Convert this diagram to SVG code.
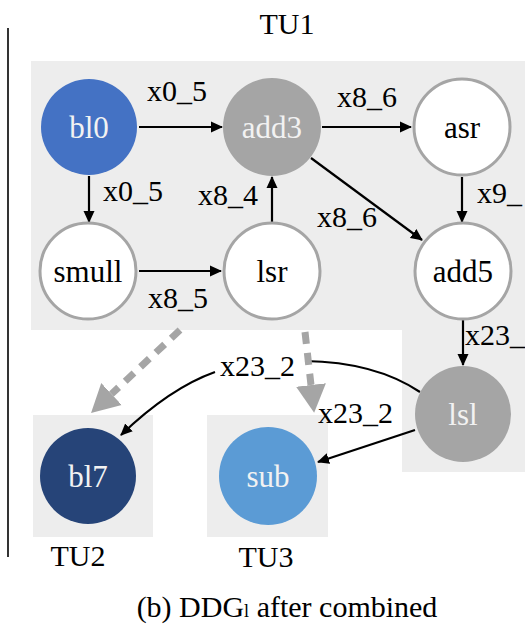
<svg xmlns="http://www.w3.org/2000/svg" width="525" height="626" viewBox="0 0 525 626" font-family="'Liberation Serif', serif">
<defs>
<style>
text{font-family:'Liberation Serif','Times New Roman',serif;font-size:30px;fill:#000}
.nl{font-size:31px;text-anchor:middle}
.lt{fill:#f2f2f2}
.bg{fill:#ededed}
.wn{fill:#fff;stroke:#a5a5a5;stroke-width:3}
.e{fill:none;stroke:#000;stroke-width:2.2;marker-end:url(#ah)}
.d{fill:none;stroke:#a5a5a5;stroke-width:7;stroke-dasharray:12 9;marker-end:url(#dh)}
</style>
<marker id="ah" markerUnits="userSpaceOnUse" markerWidth="12" markerHeight="12" refX="11" refY="5.5" orient="auto" viewBox="0 0 12 11">
<path d="M0,0 L12,5.5 L0,11 z" fill="#000"/>
</marker>
<marker id="dh" markerUnits="userSpaceOnUse" markerWidth="30" markerHeight="32" refX="0" refY="15" orient="auto" viewBox="0 0 30 30">
<path d="M0,0 L28,15 L0,30 z" fill="#a5a5a5"/>
</marker>
</defs>
<rect width="525" height="626" fill="#fff"/>
<line x1="8" y1="28" x2="8" y2="557" stroke="#000" stroke-width="1.6"/>
<g id="regions">
<path class="bg" d="M31,61 H525 V472 H402 V330 H31 Z"/>
<rect class="bg" x="33" y="415" width="120" height="122"/>
<rect class="bg" x="207" y="415" width="121" height="122"/>
<text x="287" y="34" text-anchor="middle">TU1</text>
<text x="78" y="566" text-anchor="middle">TU2</text>
<text x="266" y="567" text-anchor="middle">TU3</text>
</g>
<g id="connectors">
<path class="e" d="M139,127 H222"/>
<path class="e" d="M322,127 H411"/>
<path class="e" d="M89,176 V222"/>
<path class="e" d="M272,222 V177"/>
<path class="e" d="M311,158 L422,240"/>
<path class="e" d="M462,177 V222"/>
<path class="e" d="M139,271 H221"/>
<path class="e" d="M463,320 V365"/>
<path fill="none" stroke="#000" stroke-width="2.2" d="M420,392 Q375,362 305,361"/>
<path class="e" d="M215,372 Q170,388 121,435"/>
<path class="e" d="M415,430 L318,462"/>
<path class="d" d="M180,330 L111.5,394"/>
<path class="d" d="M305,332 L311,385"/>
<text x="147" y="101">x0_5</text>
<text x="337" y="107">x8_6</text>
<text x="103" y="201">x0_5</text>
<text x="198" y="205">x8_4</text>
<text x="317" y="227">x8_6</text>
<text x="477" y="203">x9_</text>
<text x="148" y="308">x8_5</text>
<text x="465" y="345">x23_</text>
<text x="220" y="376">x23_2</text>
<text x="318" y="423">x23_2</text>
</g>
<g id="bl0"><circle cx="89" cy="127" r="48" fill="#4472c4"/><text class="nl lt" x="89" y="138">bl0</text></g>
<g id="add3"><circle cx="272" cy="127" r="49" fill="#a5a5a5"/><text class="nl lt" x="272" y="138">add3</text></g>
<g id="asr"><circle class="wn" cx="462" cy="127" r="48"/><text class="nl" x="462" y="138">asr</text></g>
<g id="smull"><circle class="wn" cx="88" cy="271" r="48"/><text class="nl" x="88" y="282">smull</text></g>
<g id="lsr"><circle class="wn" cx="272" cy="271" r="48"/><text class="nl" x="272" y="282">lsr</text></g>
<g id="add5"><circle class="wn" cx="463" cy="271" r="48"/><text class="nl" x="463" y="282">add5</text></g>
<g id="lsl"><circle cx="463" cy="414" r="48" fill="#a5a5a5"/><text class="nl lt" x="463" y="425">lsl</text></g>
<g id="bl7"><circle cx="88" cy="476" r="48" fill="#264478"/><text class="nl lt" x="88" y="487">bl7</text></g>
<g id="sub"><circle cx="268" cy="476" r="49" fill="#5b9bd5"/><text class="nl lt" x="268" y="487">sub</text></g>
<text x="287" y="617" text-anchor="middle" font-size="31">(b) DDG<tspan font-size="18">l</tspan> after combined</text>
</svg>
